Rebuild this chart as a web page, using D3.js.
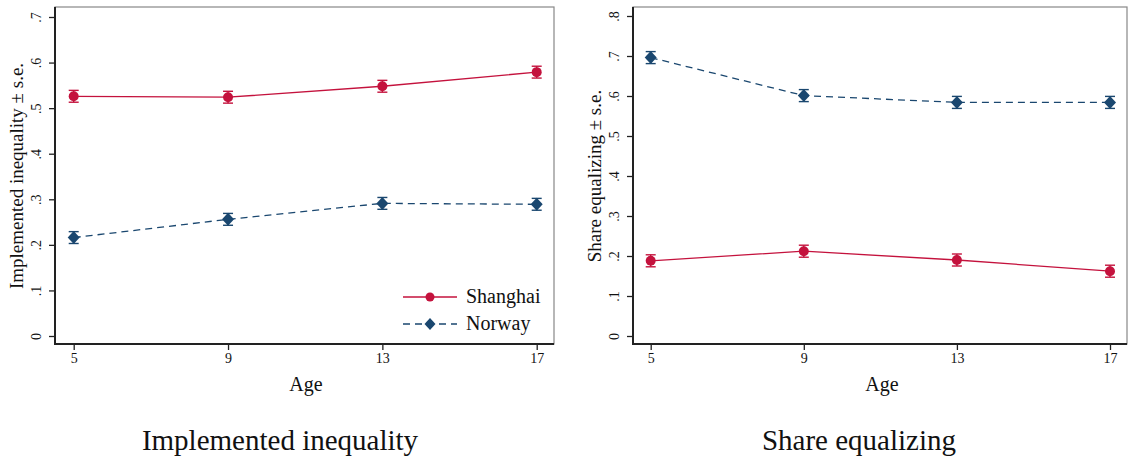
<!DOCTYPE html>
<html><head><meta charset="utf-8">
<script src="https://cdn.jsdelivr.net/npm/d3@7"></script>
<style>body{margin:0;background:#fff}svg{display:block}text{font-family:"Liberation Serif","Times New Roman",serif;fill:#111}</style>
</head><body><svg id="c" width="1128" height="463"></svg>
<script>
const ages = [5, 9, 13, 17];
const ineqShanghai = [0.526, 0.524, 0.548, 0.579];
const ineqShanghaiSE = [0.013, 0.013, 0.013, 0.013];
const ineqNorway = [0.216, 0.256, 0.291, 0.289];
const ineqNorwaySE = [0.013, 0.013, 0.013, 0.013];
const eqShanghai = [0.188, 0.212, 0.190, 0.162];
const eqShanghaiSE = [0.015, 0.015, 0.015, 0.015];
const eqNorway = [0.696, 0.601, 0.584, 0.584];
const eqNorwaySE = [0.015, 0.015, 0.015, 0.015];
const ineqTicks = [0, .1, .2, .3, .4, .5, .6, .7];
const eqTicks = [0, .1, .2, .3, .4, .5, .6, .7, .8];
const seriesNames = ["Shanghai", "Norway"];
const colors = {Shanghai: "#c4123d", Norway: "#1a476f"};

const svg = d3.select("#c");
const fmt = v => v === 0 ? "0" : d3.format(".1f")(v).replace(/^0/, "");

function panel(o) {
  const g = svg.append("g");
  const x = d3.scaleLinear().domain([5, 17]).range([o.x5, o.x17]);
  const y = d3.scaleLinear().domain([0, o.ymaxTick]).range([336, o.yTop]);
  g.append("rect").attr("x", o.left).attr("y", 7).attr("width", o.right - o.left).attr("height", 344 - 7)
    .attr("fill", "none").attr("stroke", "#888").attr("stroke-width", 1.2);
  const ya = g.append("g").attr("transform", `translate(${o.left},0)`)
    .call(d3.axisLeft(y).tickValues(o.ticks).tickFormat(fmt).tickSize(6).tickPadding(4));
  ya.select(".domain").remove();
  ya.selectAll(".tick line").attr("stroke", "#222").attr("stroke-width", 1.3);
  ya.selectAll(".tick text").attr("font-size", 14).attr("font-family", "Liberation Serif")
    .attr("x", 0).attr("y", 0).attr("dy", 0)
    .attr("text-anchor", "middle")
    .attr("transform", "translate(-14,0) rotate(-90)");
  const xa = g.append("g").attr("transform", `translate(0,344)`)
    .call(d3.axisBottom(x).tickValues(ages).tickSize(6).tickPadding(3));
  xa.select(".domain").remove();
  xa.selectAll(".tick line").attr("stroke", "#222").attr("stroke-width", 1.3);
  xa.selectAll(".tick text").attr("font-size", 14).attr("font-family", "Liberation Serif");
  g.append("line").attr("x1", o.left).attr("x2", o.left).attr("y1", 7).attr("y2", 345).attr("stroke", "#222").attr("stroke-width", 2);
  g.append("line").attr("x1", o.left - 1).attr("x2", o.right).attr("y1", 344).attr("y2", 344).attr("stroke", "#222").attr("stroke-width", 2);
  g.append("text").attr("x", o.ageX).attr("y", 391).attr("text-anchor", "middle").attr("font-size", 20).text("Age");
  g.append("text").attr("transform", `translate(${o.ytitleX},176) rotate(-90)`).attr("text-anchor", "middle").attr("font-size", 19).text(o.ytitle);
  g.append("text").attr("x", o.titleX).attr("y", 450).attr("text-anchor", "middle").attr("font-size", 29).text(o.title);

  o.series.forEach(s => {
    const c = colors[s.name];
    const pts = ages.map((a, i) => ({a, v: s.vals[i], se: s.se[i]}));
    g.append("path").datum(pts).attr("fill", "none").attr("stroke", c).attr("stroke-width", 1.3)
      .attr("stroke-dasharray", s.name === "Norway" ? "7,5" : null)
      .attr("d", d3.line().x(d => x(d.a)).y(d => y(d.v)));
    pts.forEach(d => {
      const cx = x(d.a), y1 = y(d.v + d.se), y2 = y(d.v - d.se);
      g.append("line").attr("x1", cx).attr("x2", cx).attr("y1", y1).attr("y2", y2).attr("stroke", c).attr("stroke-width", 1.4);
      [y1, y2].forEach(yy => g.append("line").attr("x1", cx - 5).attr("x2", cx + 5).attr("y1", yy).attr("y2", yy).attr("stroke", c).attr("stroke-width", 1.4));
      if (s.name === "Shanghai") g.append("circle").attr("cx", cx).attr("cy", y(d.v)).attr("r", 5).attr("fill", c);
      else g.append("path").attr("transform", `translate(${cx},${y(d.v)})`).attr("d", "M0,-6.5L6,0L0,6.5L-6,0Z").attr("fill", c);
    });
  });
  return {g, x, y};
}

panel({left: 55, right: 554, x5: 73.7, x17: 536.7, yTop: 17, ymaxTick: 0.7, ticks: ineqTicks,
  ytitle: "Implemented inequality \u00b1 s.e.", ytitleX: 23, title: "Implemented inequality", titleX: 280, ageX: 306,
  series: [{name: "Shanghai", vals: ineqShanghai, se: ineqShanghaiSE}, {name: "Norway", vals: ineqNorway, se: ineqNorwaySE}]});
panel({left: 633, right: 1127, x5: 650.7, x17: 1110, yTop: 16, ymaxTick: 0.8, ticks: eqTicks,
  ytitle: "Share equalizing \u00b1 s.e.", ytitleX: 601, title: "Share equalizing", titleX: 859, ageX: 882,
  series: [{name: "Shanghai", vals: eqShanghai, se: eqShanghaiSE}, {name: "Norway", vals: eqNorway, se: eqNorwaySE}]});

const lg = svg.append("g");
seriesNames.forEach((n, i) => {
  const yy = 297 + i * 27, c = colors[n];
  lg.append("line").attr("x1", 403).attr("x2", 457).attr("y1", yy).attr("y2", yy).attr("stroke", c).attr("stroke-width", 1.3)
    .attr("stroke-dasharray", n === "Norway" ? "7,5" : null);
  if (n === "Shanghai") lg.append("circle").attr("cx", 430).attr("cy", yy).attr("r", 4.5).attr("fill", c);
  else lg.append("path").attr("transform", `translate(430,${yy})`).attr("d", "M0,-6L5.5,0L0,6L-5.5,0Z").attr("fill", c);
  lg.append("text").attr("x", 466).attr("y", yy + 6).attr("font-size", 20).text(n);
});
</script></body></html>
